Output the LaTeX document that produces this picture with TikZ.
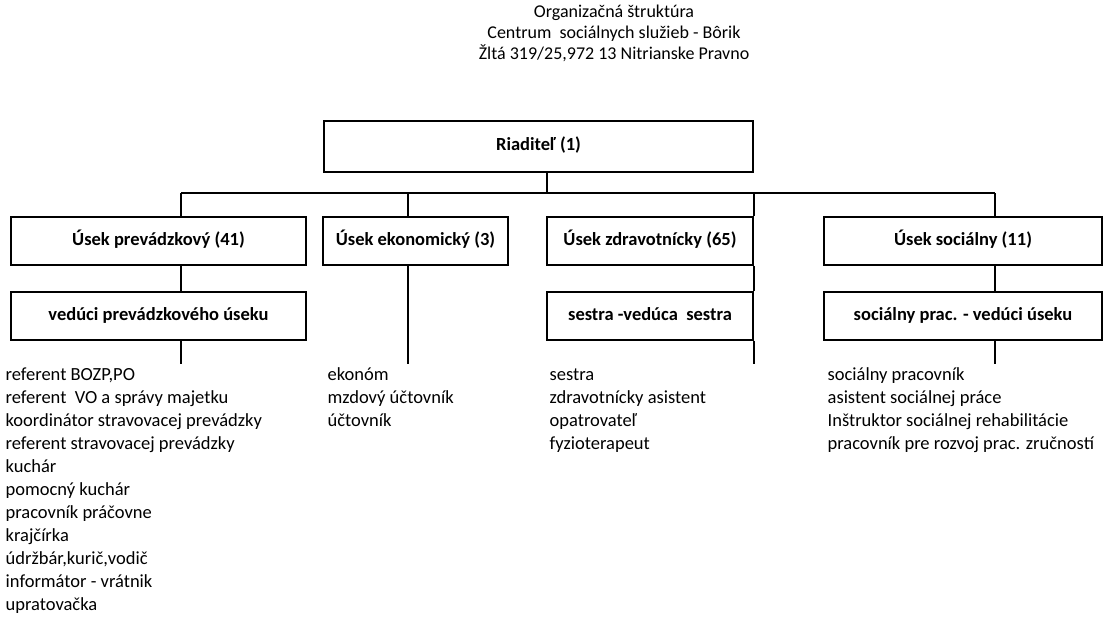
\documentclass[tikz,border=0pt]{standalone}
\usepackage{fontspec}
\setmainfont{Carlito}
\usetikzlibrary{positioning}

\begin{document}
\begin{tikzpicture}[x=1pt,y=-1pt,node distance=25pt,line width=1.3pt,
	box/.style={draw,line width=1.8pt,minimum height=48pt,inner sep=0pt,text height=13pt,text depth=4.5pt,font=\fontsize{18.5}{23}\selectfont\bfseries},
	list/.style={anchor=north west,align=left,inner sep=0pt,font=\fontsize{18.5}{23}\selectfont}]
	\useasboundingbox (0,0) rectangle (1112,618);
	\node[align=center,inner sep=0pt,anchor=north,font=\fontsize{18}{21}\selectfont] (title) at (614,4)
		{Organizačná štruktúra\\Centrum~ sociálnych služieb - Bôrik\\Žltá 319/25,972 13 Nitrianske Pravno};
	\node[box,minimum width=429pt,minimum height=51pt] (riad) at (538.5,146.5) {Riaditeľ (1)};
	\node[box,minimum width=295pt] (prev) at (158.5,241) {Úsek prevádzkový (41)};
	\node[box,minimum width=185pt] (eko) at (415.5,241) {Úsek ekonomický (3)};
	\node[box,minimum width=206pt] (zdrav) at (650,241) {Úsek zdravotnícky (65)};
	\node[box,minimum width=278pt] (soc) at (963,241) {Úsek sociálny (11)};
	\node[box,minimum width=295pt] (vedprev) [below=of prev] {vedúci prevádzkového úseku};
	\node[box,minimum width=206pt] (sestra) [below=of zdrav] {sestra -vedúca~ sestra};
	\node[box,minimum width=278pt] (socprac) [below=of soc] {sociálny prac. - vedúci úseku};
	\node[list] (prevlist) at (5,364) {\strut referent BOZP,PO\\referent~ VO a správy majetku\\koordinátor stravovacej prevádzky\\referent stravovacej prevádzky\\kuchár\\pomocný kuchár\\pracovník práčovne\\krajčírka\\údržbár,kurič,vodič\\informátor - vrátnik\\upratovačka};
	\node[list] (ekolist) at (327,364) {\strut ekonóm\\mzdový účtovník\\účtovník};
	\node[list] (zdravlist) at (549,364) {\strut sestra\\zdravotnícky asistent\\opatrovateľ\\fyzioterapeut};
	\node[list] (soclist) at (827,364) {\strut sociálny pracovník\\asistent sociálnej práce\\Inštruktor sociálnej rehabilitácie\\pracovník pre rozvoj prac. zručností};
	% spojnice
	\coordinate (busL) at (181,193);
	\coordinate (busR) at (995,193);
	\draw (busL) -- (busR);
	\draw ([xshift=8.5pt]riad.south) -- ([xshift=8.5pt]riad.south |- busL);
	\draw (busL) -- (busL |- prev.north);
	\draw (prev.south -| busL) -- (vedprev.north -| busL);
	\draw (vedprev.south -| busL) -- (prevlist.north -| busL);
	\draw ([xshift=-7.5pt]eko.north |- busL) -- ([xshift=-7.5pt]eko.north);
	\draw ([xshift=-7.5pt]eko.south) -- ([xshift=-7.5pt]eko.south |- ekolist.north);
	\draw (zdrav.north east |- busL) -- (zdrav.north east);
	\draw (zdrav.south east) -- (sestra.north east);
	\draw (sestra.south east) -- (sestra.south east |- zdravlist.north);
	\draw (busR) -- (busR |- soc.north);
	\draw (soc.south -| busR) -- (socprac.north -| busR);
	\draw (socprac.south -| busR) -- (busR |- soclist.north);
\end{tikzpicture}
\end{document}
